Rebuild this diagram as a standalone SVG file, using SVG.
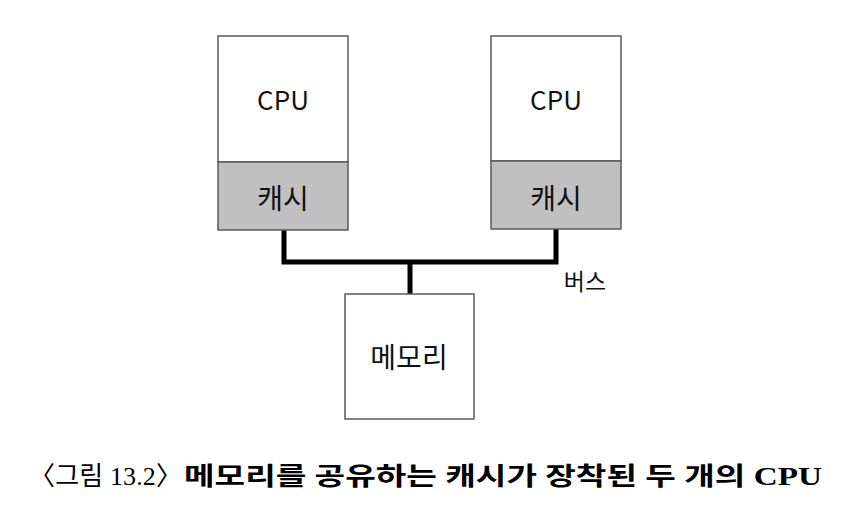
<svg xmlns="http://www.w3.org/2000/svg" width="842" height="512" viewBox="0 0 842 512">
<style>
.box{fill:#ffffff;stroke:#5a5a5a;stroke-width:1.5}
.cache{fill:#c0c0c0;stroke:#5a5a5a;stroke-width:1.5}
.lbl{font-family:"Noto Sans CJK KR","Liberation Sans",sans-serif;font-size:28px;fill:#111;text-anchor:middle}
.cpu{font-size:26px}
.bus{fill:none;stroke:#000;stroke-width:5;stroke-linejoin:miter}
.cap{font-family:"Liberation Serif","Noto Sans CJK KR",serif;font-size:25px;fill:#000}
</style>
<rect width="842" height="512" fill="#fff"/>
<g id="connectors">
<path class="bus" d="M284 230 V262 H556 V229 M410 262 V294"/>
</g>
<g id="cpu1">
<rect class="box" x="218" y="36" width="130" height="126"/>
<rect class="cache" x="218" y="162" width="130" height="68"/>
<text class="lbl cpu" x="283" y="110">CPU</text>
<text class="lbl" x="283" y="209">캐시</text>
</g>
<g id="cpu2">
<rect class="box" x="491" y="36" width="130" height="125"/>
<rect class="cache" x="491" y="161" width="130" height="68"/>
<text class="lbl cpu" x="556" y="110">CPU</text>
<text class="lbl" x="556" y="209">캐시</text>
</g>
<g id="memory">
<rect class="box" x="345" y="294" width="129" height="125"/>
<text class="lbl" x="409" y="368">메모리</text>
</g>
<g id="bus-label">
<text class="lbl" x="585" y="290" style="font-size:23px">버스</text>
</g>
<g id="caption">
<text class="cap" x="29" y="485" style="font-size:26px" textLength="153" lengthAdjust="spacing">〈그림 13.2〉</text>
<text class="cap" x="184" y="485" font-weight="bold" textLength="638" lengthAdjust="spacingAndGlyphs">메모리를 공유하는 캐시가 장착된 두 개의 CPU</text>
</g>
</svg>
